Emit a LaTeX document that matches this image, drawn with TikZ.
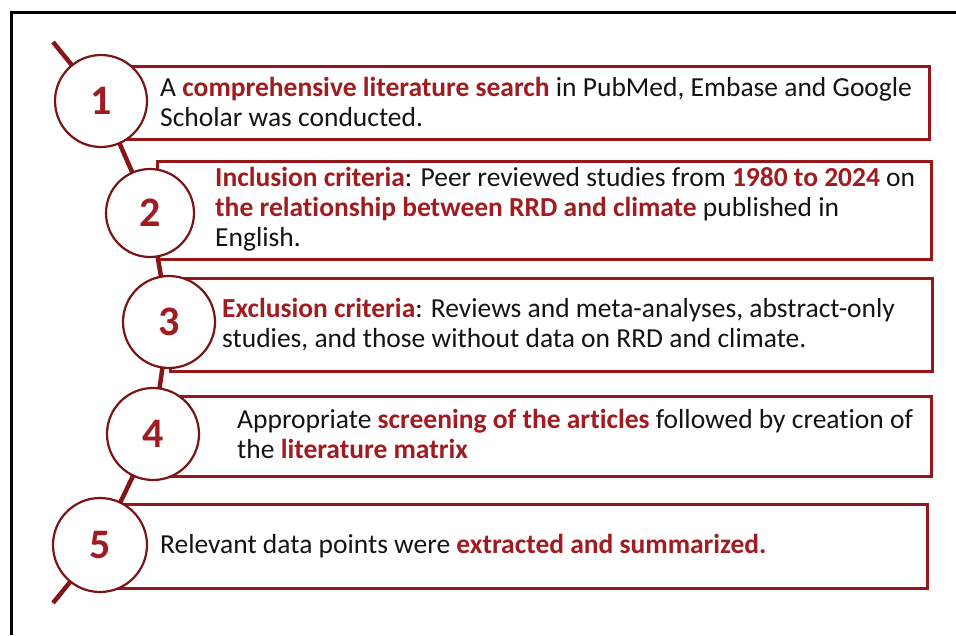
\documentclass[tikz,border=0pt]{standalone}
\usepackage{fontspec}
\setmainfont[Ligatures={NoCommon}]{Carlito}
\definecolor{dred}{RGB}{150,22,26}
\definecolor{cred}{RGB}{122,20,22}
\definecolor{sred}{RGB}{135,20,22}
\definecolor{tred}{RGB}{160,28,32}
\definecolor{ink}{RGB}{20,20,20}
\newcommand{\hl}[1]{\textbf{\textcolor{tred}{#1}}}
\tikzset{
  stepbox/.style={draw=dred, line width=3pt, anchor=north west, inner sep=0pt},
  stepcirc/.style={circle, draw=cred, line width=2.2pt, fill=white, minimum size=92pt, inner sep=0pt,
    text=tred, font=\fontsize{42}{42}\selectfont\bfseries},
  steptxt/.style={anchor=base west, inner sep=0pt, align=left, text=ink,
    font=\fontsize{27.5}{30}\selectfont},
  spine/.style={draw=sred, line width=4.5pt},
}
\begin{document}
\begin{tikzpicture}[x=1pt,y=-1pt]
\useasboundingbox (0,0) rectangle (956,635);
\fill[white] (0,0) rectangle (956,635);
\draw[line width=3pt, black] (11,635) -- (11,12) -- (956,12);

\coordinate (p1) at (101,101);
\coordinate (p2) at (150,213);
\coordinate (p3) at (169,322);
\coordinate (p4) at (153,434);
\coordinate (p5) at (100,545);
\coordinate (t1) at (53,42);
\coordinate (t2) at (53,603);

\node[stepbox, minimum width=827pt, minimum height=73pt] (b1) at (101,65) {};
\node[stepbox, minimum width=774pt, minimum height=98pt] (b2) at (156,160) {};
\node[stepbox, minimum width=762pt, minimum height=93pt] (b3) at (169,277) {};
\node[stepbox, minimum width=777pt, minimum height=80pt] (b4) at (153,395) {};
\node[stepbox, minimum width=826pt, minimum height=84pt] (b5) at (100,503) {};

\draw[spine] (t1) -- (p1) -- (p2) -- (p3) -- (p4) -- (p5) -- (t2);

\node[stepcirc] (c1) at (p1) {1};
\node[stepcirc, minimum size=88pt] (c2) at (p2) {2};
\node[stepcirc] (c3) at (p3) {3};
\node[stepcirc] (c4) at (p4) {4};
\node[stepcirc, minimum size=94pt] (c5) at (p5) {5};

\node[steptxt] (x1) at (160,126) {A \hl{comprehensive literature search} in PubMed, Embase and Google\\Scholar was conducted.};
\node[steptxt] (x2) at (215,246) {\hl{Inclusion criteria}: Peer reviewed studies from \hl{1980 to 2024} on\\\hl{the relationship between RRD and climate} published in\\English.};
\node[steptxt] (x3) at (222,347) {\hl{Exclusion criteria}: Reviews and meta-analyses, abstract-only\\studies, and those without data on RRD and climate.};
\node[steptxt] (x4) at (237,458) {Appropriate \hl{screening of the articles} followed by creation of\\the \hl{literature matrix}};
\node[steptxt] (x5) at (160,553) {Relevant data points were \hl{extracted and summarized.}};
\end{tikzpicture}
\end{document}
